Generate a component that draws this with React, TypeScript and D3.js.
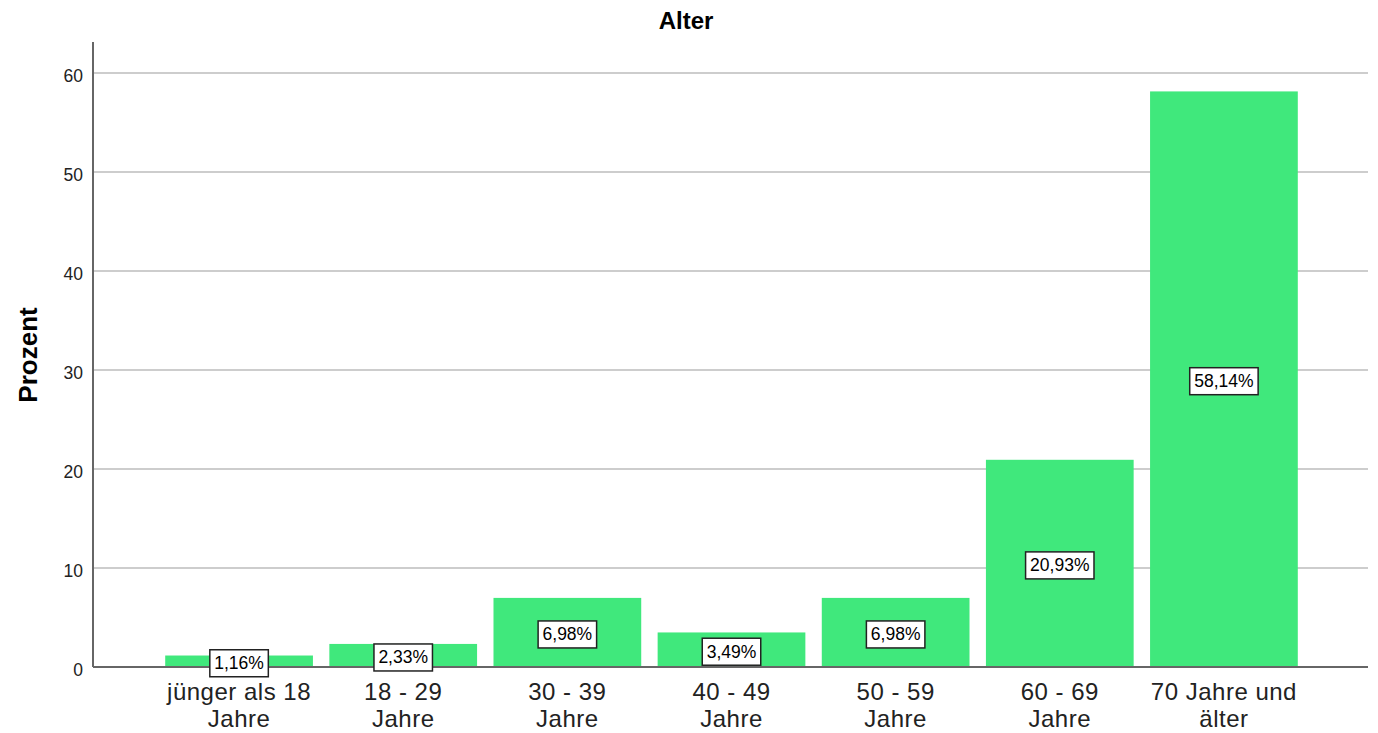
import React from "react";
import * as d3 from "d3";

const categories = ["jünger als 18|Jahre", "18 - 29|Jahre", "30 - 39|Jahre", "40 - 49|Jahre", "50 - 59|Jahre", "60 - 69|Jahre", "70 Jahre und|älter"];
const values = [1.16, 2.33, 6.98, 3.49, 6.98, 20.93, 58.14];
const yTicks = [0, 10, 20, 30, 40, 50, 60];

const W = 1378, H = 733;
const axisX = 93, rightX = 1368, zeroY = 667;

export default function App() {
  const y = d3.scaleLinear().domain([0, 60]).range([zeroY, 73]);
  const x = d3.scaleBand<string>().domain(categories).range([157, 1306]).paddingInner(0.1).paddingOuter(0.05);
  const fmt = (v: number) => v.toFixed(2).replace(".", ",") + "%";
  return (
    <svg width={W} height={H} style={{ position: "absolute", left: 0, top: 0 }} fontFamily="Arial, 'Liberation Sans', sans-serif">
      <rect width={W} height={H} fill="#fff" />
      <text x={686} y={29} textAnchor="middle" fontSize={24} fontWeight="bold" fill="#000">Alter</text>
      {yTicks.filter(t => t > 0).map(t => (
        <line key={t} x1={axisX} x2={rightX} y1={y(t)} y2={y(t)} stroke="#cdcdcd" strokeWidth={2} />
      ))}
      {values.map((v, i) => (
        <rect key={i} x={x(categories[i])} y={y(v)} width={x.bandwidth()} height={y(0) - y(v)} fill="#40e87c" />
      ))}
      <line x1={axisX} x2={rightX} y1={zeroY} y2={zeroY} stroke="#666" strokeWidth={2} />
      <line x1={axisX} x2={axisX} y1={42} y2={zeroY} stroke="#666" strokeWidth={2} />
      {yTicks.map(t => (
        <text key={t} x={83} y={y(t) + 9} textAnchor="end" fontSize={17.5} fill="#222">{t}</text>
      ))}
      <text transform={`translate(37,355) rotate(-90)`} textAnchor="middle" fontSize={26} fontWeight="bold" fill="#000">Prozent</text>
      {values.map((v, i) => {
        const cx = (x(categories[i]) as number) + x.bandwidth() / 2;
        const cy = y(v / 2) + 2;
        const label = fmt(v);
        const bw = label.length * 9.9 + 9;
        return (
          <g key={i}>
            <rect x={cx - bw / 2} y={cy - 13.5} width={bw} height={27} fill="#fff" stroke="#222" strokeWidth={1.5} />
            <text x={cx} y={cy + 6} textAnchor="middle" fontSize={17.5} fill="#000">{label}</text>
          </g>
        );
      })}
      {categories.map((c, i) => {
        const cx = (x(c) as number) + x.bandwidth() / 2;
        const lines = c.split("|");
        return (
          <text key={i} x={cx} textAnchor="middle" fontSize={24} letterSpacing={0.5} fill="#222">
            {lines.map((l, j) => (
              <tspan key={j} x={cx} y={700 + j * 27}>{l}</tspan>
            ))}
          </text>
        );
      })}
    </svg>
  );
}
